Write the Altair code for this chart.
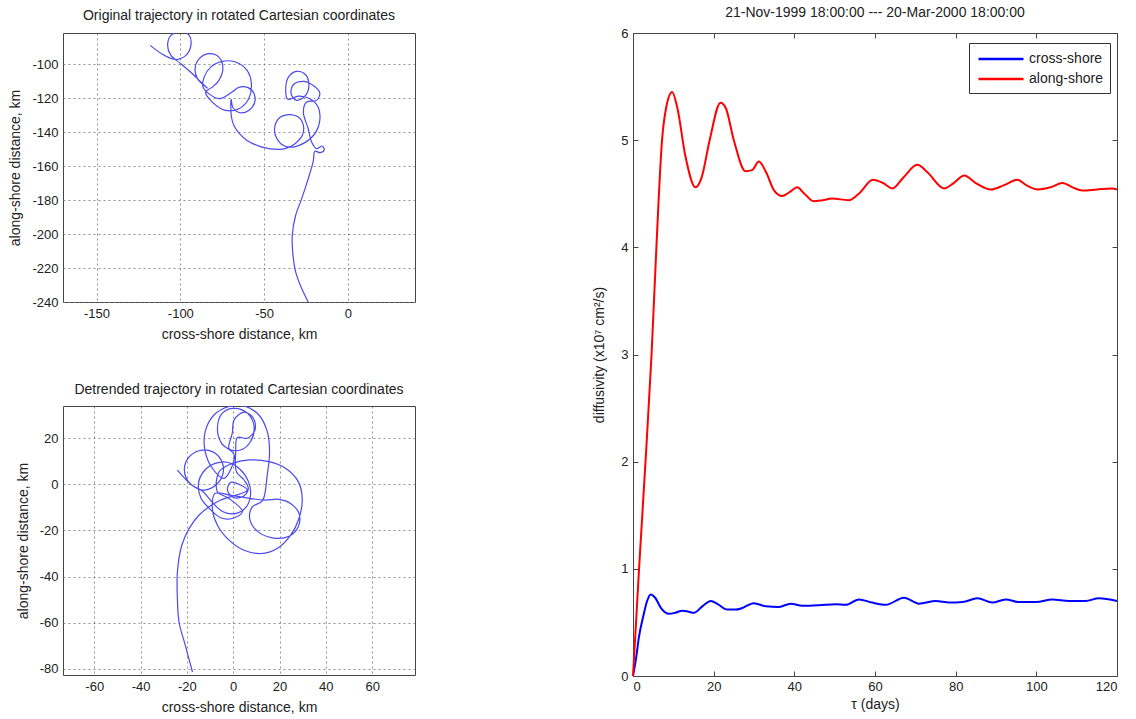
import altair as alt
import pandas as pd

# ---------------- data ----------------
# Original trajectory (rotated Cartesian, km)
orig_x = [-118.0, -109.5, -102.6, -96.7, -93.7, -94.7, -99.7, -105.6, -107.6, -105.6, -99.7, -92.8, -87.8, -83.9,
          -89.8, -91.2, -88.8, -82.9, -77.0, -74.6, -77.0, -80.9,
          -84.9, -80.9, -73.0, -65.1, -59.2, -57.6, -60.2, -67.1, -75.0, -81.9, -85.8, -86.4, -77.0, -69.1,
          -65.1, -59.6, -56.0, -55.7, -59.2, -64.1, -68.5, -69.7, -69.5, -67.9, -64.7, -60.2, -51.3, -41.4, -36.5,
          -31.6, -27.2, -26.6, -29.6, -35.5, -41.4, -43.8, -42.4, -37.9, -32.6, -25.7, -19.7, -16.8, -17.8, -22.7,
          -29.6, -35.9, -37.1, -35.5, -30.6, -25.3, -23.3, -25.3, -30.6, -33.9, -32.6, -26.6, -20.7, -16.8, -18.7,
          -24.7, -26.6, -23.7, -21.7, -18.7, -15.4, -14.2, -16.6, -19.7, -20.7, -23.7, -27.6, -31.2, -33.2, -32.8,
          -31.2, -28.0, -23.7]
orig_y = [-88.8, -94.7, -97.1, -94.7, -88.8, -82.9, -80.6, -82.9, -88.8, -94.7, -99.6, -105.5, -110.4, -113.9,
          -108.4, -102.6, -96.7, -93.7, -95.7, -102.6, -109.4, -113.4,
          -116.3, -122.2, -127.1, -126.1, -120.2, -111.4, -103.5, -98.6, -98.2, -101.6, -107.5, -113.4, -120.2, -116.3,
          -113.5, -113.7, -117.3, -122.6, -127.1, -128.5, -125.7, -120.6, -131.0, -136.3, -140.8, -144.8, -148.7, -150.1, -149.3,
          -146.7, -141.8, -135.9, -131.0, -129.6, -132.0, -137.9, -143.8, -148.1, -148.7, -146.1, -140.8, -133.0, -125.1, -120.2,
          -118.7, -120.6, -113.9, -107.5, -104.1, -106.1, -112.0, -118.3, -121.2, -117.3, -112.0, -110.0, -112.4, -116.7, -121.2,
          -122.2, -128.1, -137.9, -145.7, -149.7, -148.1, -150.3, -152.0, -151.2, -157.1, -167.3, -179.1, -188.9, -200.7, -212.5,
          -222.3, -231.2, -240.0]

# Detrended trajectory (km)
detr_x = [-24.1, -21.2, -16.9,
          -12.6, -7.5, -4.4, -5.0, -9.0, -14.7, -19.3, -21.1, -18.8, -13.3,
          -9.0, -4.4, 1.4, 5.7, 7.5, 6.5, 2.8, -2.5, -7.8, -12.6, -15.0, -14.0, -10.4, -5.4, -0.4, 4.0,
          -1.8, -6.8,
          -6.1, -0.4, 6.8, 15.4, 22.6, 28.1, 29.8, 28.4, 24.8, 19.0, 11.9, 4.7, -1.8, -6.8, -9.0, -7.8,
          -0.4,
          13.3, 19.8, 24.8, 28.4, 28.1, 24.1, 16.9, 10.4, 7.1, 8.3, 12.6,
          14.7, 15.7, 14.7, 11.1, 5.4, -1.8, -8.3, -12.1, -12.1, -9.0, -4.0,
          0.4, -5.0, -6.8, -4.7, 0.4, 6.1, 9.0, 7.5, 3.2, -1.8,
          -0.4, 0.4, 4.7, 8.7, 9.4, 6.1, 1.8,
          1.1, 1.4,
          4.7, 6.5, 4.7, 0.4, -2.5, -1.1, 3.2, 6.1,
          -5.4, -10.4, -14.7, -19.0, -22.2, -24.1, -24.1, -23.4, -20.5, -17.6]
detr_y = [6.2, 2.9, -1.0,
          -2.5, -0.3, 4.8, 10.1, 14.2, 14.6, 11.6, 6.2, 0.4, -2.9,
          -7.8, -11.9, -12.6, -9.7, -4.3, 1.4, 6.7, 9.6, 9.1, 5.8, 0.4, -5.8, -10.4, -14.5, -14.8, -11.9,
          -6.1, -3.2,
          5.5, 9.1, 10.6, 9.9, 7.0, 1.2, -6.1, -14.8, -22.0, -27.8, -30.0, -28.6, -24.2, -17.7, -10.4, -3.9,
          -4.9,
          -6.8, -6.5, -8.3, -12.6, -18.4, -22.5, -23.2, -20.3, -14.8, -9.7, -7.2,
          4.1, 14.2, 22.9, 30.1, 33.8, 33.8, 30.1, 22.9, 14.2, 7.0, 2.6,
          12.8, 17.8, 24.3, 30.9, 33.0, 30.9, 25.1, 18.6, 14.9, 15.4,
          22.2, 28.0, 31.3, 28.7, 23.6, 20.0, 20.3,
          14.2, 5.5,
          1.9, -1.7, -4.9, -5.8, -2.5, 0.9, -0.3, -2.5,
          -6.8, -9.7, -13.3, -19.1, -26.4, -38.0, -49.6, -59.7, -70.5, -81.4]

# Diffusivity vs lag (x10^7 cm^2/s)
t_cross = [0, 0.7, 1.5, 2.5, 3.5, 4.4, 5.5, 7, 8.9, 10.5, 12.2, 13.8, 15.1, 17.2, 19.3, 21, 23.4, 25.5, 27.1, 30,
           32.9, 36.2, 39.1, 42, 46.1, 50.3, 52.8, 56, 59.3, 62.7, 67.2, 70.9, 75.1, 78.4, 81.7, 85.4, 89.1, 92.4,
           95.7, 99.9, 104, 108.1, 112.2, 115.5, 120]
v_cross = [0, 0.15, 0.37, 0.55, 0.7, 0.76, 0.73, 0.63, 0.58, 0.59, 0.61, 0.6, 0.59, 0.65, 0.70, 0.67, 0.62, 0.62,
           0.635, 0.68, 0.65, 0.645, 0.675, 0.655, 0.66, 0.67, 0.665, 0.715, 0.685, 0.665, 0.73, 0.675, 0.70, 0.685,
           0.69, 0.725, 0.685, 0.715, 0.69, 0.69, 0.715, 0.70, 0.70, 0.725, 0.70]
t_along = [0, 1.5, 3.1, 4.6, 5.8, 7.2, 8.2, 9.7, 11, 13, 15.5, 17, 19, 21.7, 23, 25, 27.9, 29.5, 31.2, 33,
           35, 37, 39, 40.7, 42.5, 44.8, 47, 49.4, 53.5, 56, 59.5, 62, 64.3, 67, 70.5, 73, 77.1, 79.5, 82.1, 85,
           88.7, 92, 95.3, 97.5, 100.3, 103.5, 106.5, 109, 111.4, 115, 118.8, 120]
v_along = [0, 1.0, 2.0, 3.0, 4.0, 5.0, 5.3, 5.45, 5.3, 4.85, 4.56, 4.65, 5.0, 5.35, 5.3, 5.0, 4.71, 4.72, 4.80, 4.7,
           4.53, 4.48, 4.52, 4.56, 4.5, 4.43, 4.44, 4.455, 4.44, 4.5, 4.63, 4.6, 4.55, 4.65, 4.77, 4.7, 4.55, 4.6,
           4.67, 4.6, 4.54, 4.58, 4.63, 4.58, 4.54, 4.56, 4.60, 4.56, 4.53, 4.54, 4.55, 4.54]

series_names = ["cross-shore", "along-shore"]
series_colors = ["#0000ff", "#ff0000"]

FONT = "Liberation Sans"
TXT = "#222222"
TRAJ = "#4a4af0"
LBL = "'' + datum.value"

df_orig = pd.DataFrame({"x": orig_x, "y": orig_y, "i": range(len(orig_x))})
df_detr = pd.DataFrame({"x": detr_x, "y": detr_y, "i": range(len(detr_x))})
df_diff = pd.concat([
    pd.DataFrame({"t": t_cross, "v": v_cross, "s": series_names[0]}),
    pd.DataFrame({"t": t_along, "v": v_along, "s": series_names[1]}),
], ignore_index=True)


def grid_axis(title, values, title_pad):
    return alt.Axis(title=title, values=values, grid=True, gridDash=[2, 3], gridColor="#777",
                    gridOpacity=0.8, ticks=False, domain=False, labelPadding=5, titlePadding=title_pad,
                    labelExpr=LBL)


def traj_panel(df, title, xdom, ydom, xt, yt, toff):
    return alt.Chart(df).mark_line(color=TRAJ, strokeWidth=1.2, clip=True, interpolate="catmull-rom").encode(
        x=alt.X("x:Q", scale=alt.Scale(domain=xdom, nice=False, zero=False),
                axis=grid_axis("cross-shore distance, km", xt, 7)),
        y=alt.Y("y:Q", scale=alt.Scale(domain=ydom, nice=False, zero=False),
                axis=grid_axis("along-shore distance, km", yt, 9)),
        order="i:Q",
    ).properties(
        width=352, height=269,
        title=alt.TitleParams(title, anchor="middle", frame="group", fontSize=14, fontWeight="normal",
                              font=FONT, color=TXT, offset=toff),
    )


top = traj_panel(df_orig, "Original trajectory in rotated Cartesian coordinates",
                 [-170, 40], [-240, -81.5], [-150, -100, -50, 0], list(range(-240, -99, 20)), 10)
bottom = traj_panel(df_detr, "Detrended trajectory  in rotated Cartesian coordinates",
                    [-73.5, 78.5], [-82.7, 34], list(range(-60, 61, 20)), list(range(-80, 21, 20)), 9)

xs = alt.Scale(domain=[0, 120], nice=False)
ys = alt.Scale(domain=[0, 6], nice=False)

lines = alt.Chart(df_diff).mark_line(strokeWidth=2, interpolate="monotone").encode(
    x=alt.X("t:Q", scale=xs, axis=alt.Axis(title="τ (days)", values=list(range(0, 121, 20)), offset=-5,
                                           tickSize=5, domain=False, grid=False, labelPadding=4,
                                           titlePadding=4, tickColor="#444", labelExpr=LBL)),
    y=alt.Y("v:Q", scale=ys, axis=alt.Axis(title="diffusivity (x10⁷  cm²/s)", values=list(range(0, 7)),
                                           offset=-5, tickSize=5, domain=False, grid=False, labelPadding=5,
                                           titlePadding=14, tickColor="#444", labelExpr=LBL)),
    color=alt.Color("s:N", scale=alt.Scale(domain=series_names, range=series_colors),
                    sort=series_names,
                    legend=alt.Legend(title=None, orient="none", legendX=336, legendY=10,
                                      symbolType="M-3,0H3", symbolSize=225, symbolOffset=16,
                                      symbolStrokeWidth=2.5, strokeColor="#333",
                                      fillColor="white", padding=7, labelFontSize=14, rowPadding=4,
                                      labelFont=FONT, labelColor=TXT, labelOffset=19)),
)

mirror = alt.Chart(df_diff).mark_line(strokeOpacity=0).encode(
    x=alt.X("t:Q", scale=xs, axis=alt.Axis(orient="top", title=None, labels=False, values=list(range(0, 121, 20)),
                                           offset=-5, tickSize=5, domain=False, grid=False, tickColor="#444")),
    y=alt.Y("v:Q", scale=ys, axis=alt.Axis(orient="right", title=None, labels=False, values=list(range(0, 7)),
                                           offset=-5, tickSize=5, domain=False, grid=False, tickColor="#444")),
    detail="s:N",
)

right = alt.layer(lines, mirror).resolve_axis(x="independent", y="independent").properties(
    width=484, height=643,
    title=alt.TitleParams("21-Nov-1999 18:00:00 --- 20-Mar-2000 18:00:00", anchor="middle", frame="group",
                          fontSize=14, fontWeight="normal", font=FONT, color=TXT, offset=7),
)

chart = alt.hconcat(
    alt.vconcat(top, bottom, spacing=40),
    right,
    spacing=176,
).resolve_legend(color="independent").properties(
    padding={"left": 8, "top": 5, "right": 5, "bottom": 5},
    background="white",
).configure_view(
    stroke="#444", strokeWidth=1,
).configure_axis(
    labelFont=FONT, titleFont=FONT, labelFontSize=13, titleFontSize=14, labelColor=TXT, titleColor=TXT,
    titleFontWeight="normal",
)

chart.save("out.html", embed_options={"renderer": "svg", "actions": False})
